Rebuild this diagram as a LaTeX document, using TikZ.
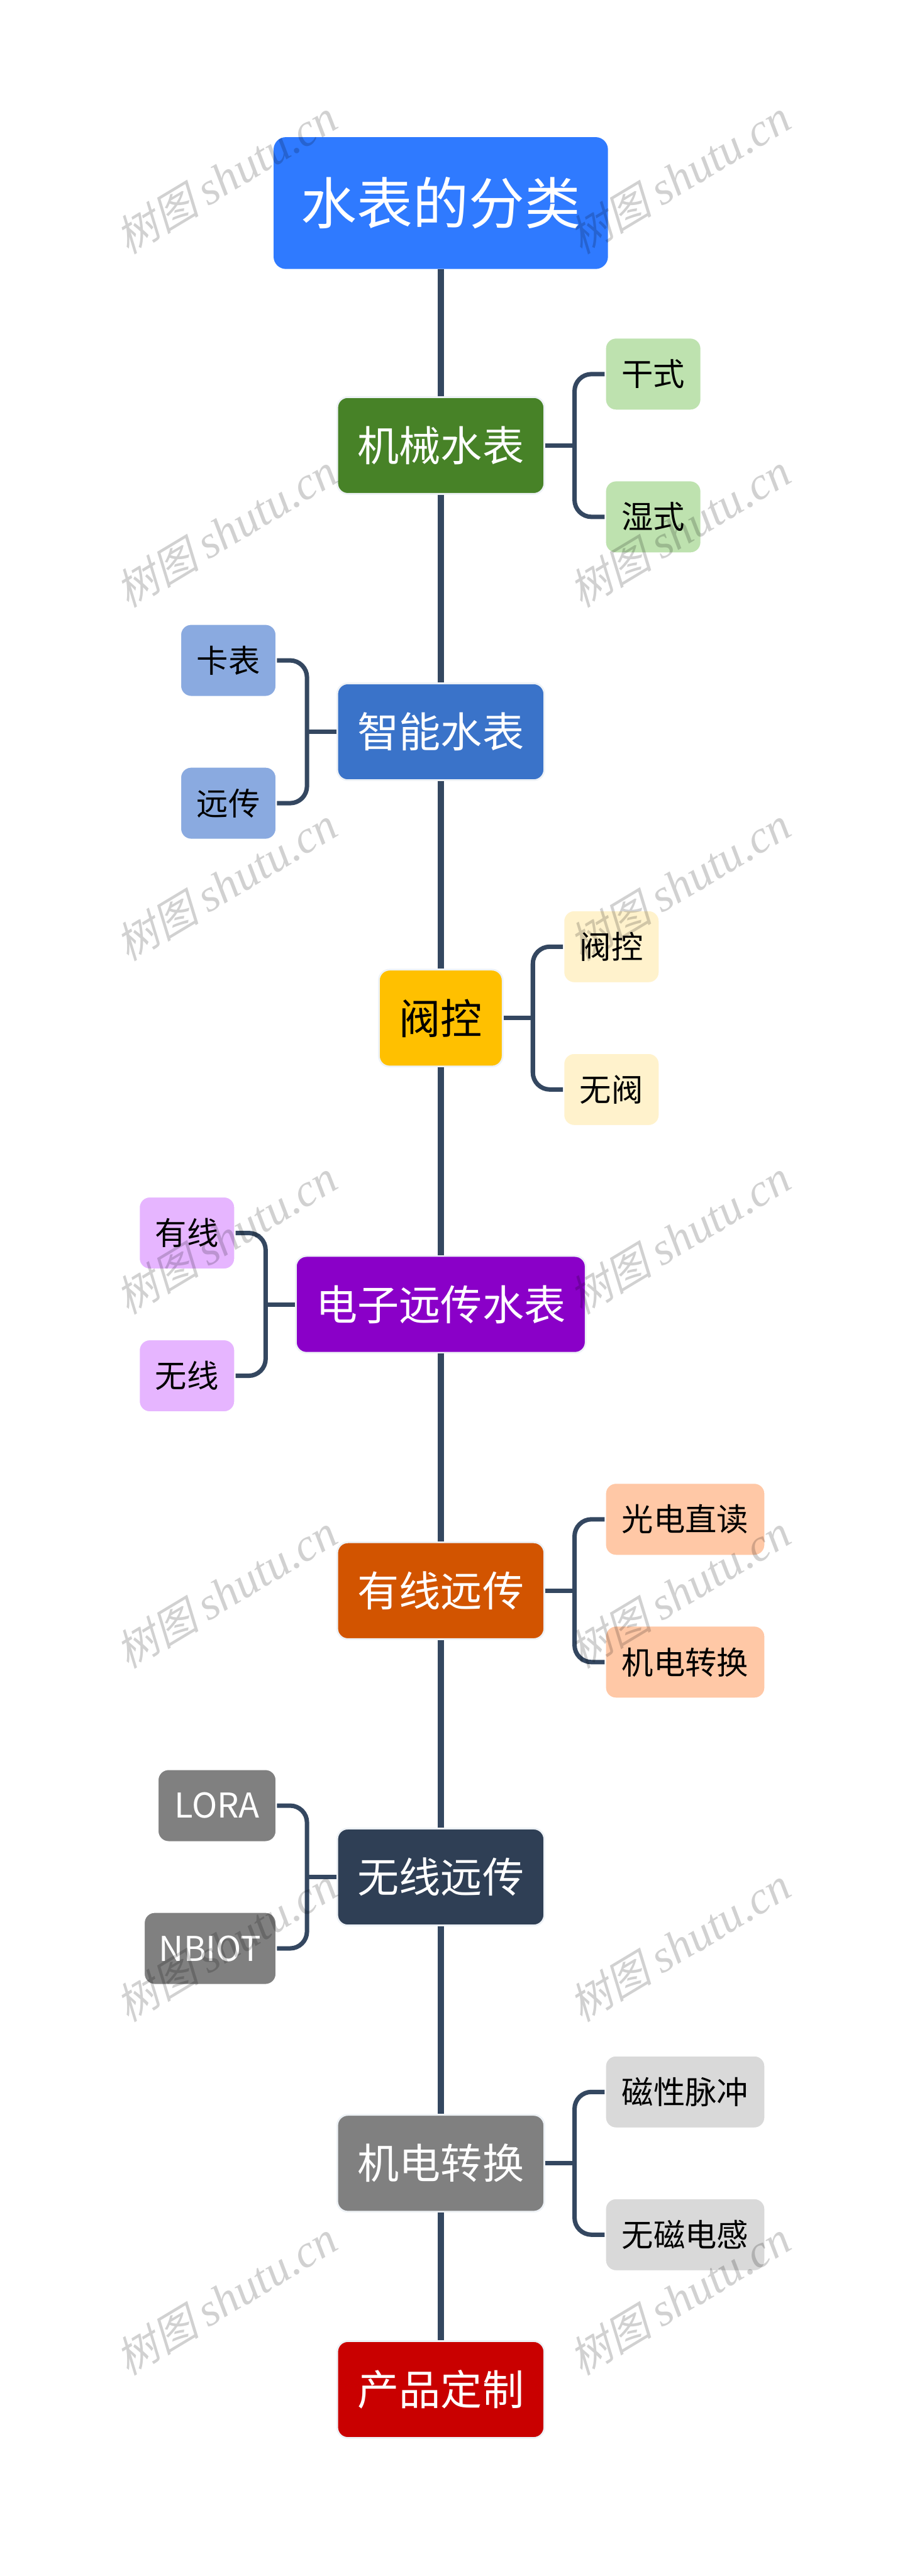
\documentclass[tikz,border=0pt]{standalone}
\usepackage{fontspec}
\setmainfont{Noto Sans CJK SC}
\newfontfamily\markcjk[FakeSlant=0.25]{Noto Sans CJK SC}
\newfontfamily\marklatin{Liberation Serif}
\usetikzlibrary{positioning}

\definecolor{linecol}{HTML}{344760}
\definecolor{halocol}{HTML}{EEF2F6}
\definecolor{rootcol}{HTML}{2F7AFF}
\definecolor{mechcol}{HTML}{478227}
\definecolor{mechleaf}{HTML}{BEE2AF}
\definecolor{smartcol}{HTML}{3A73C9}
\definecolor{smartleaf}{HTML}{8AAAE0}
\definecolor{valvecol}{HTML}{FFC000}
\definecolor{valveleaf}{HTML}{FFF2CC}
\definecolor{elecol}{HTML}{8A00C8}
\definecolor{eleleaf}{HTML}{E6B5FF}
\definecolor{wiredcol}{HTML}{D25400}
\definecolor{wiredleaf}{HTML}{FFC8A6}
\definecolor{wlesscol}{HTML}{2F3F55}
\definecolor{greycol}{HTML}{808080}
\definecolor{convleaf}{HTML}{D9D9D9}
\definecolor{prodcol}{HTML}{C90000}

\tikzset{
  rootbox/.style={rectangle, rounded corners=0.7cm, fill=rootcol, text=white, minimum width=18.92cm, minimum height=7.46cm, inner sep=0pt, font=\fontsize{90}{100}\selectfont},
  mainbox/.style={rectangle, rounded corners=0.6cm, draw=halocol, line width=0.1cm, text=white, minimum width=11.72cm, minimum height=5.48cm, inner sep=0pt, font=\fontsize{67}{80}\selectfont},
  leafbox/.style={rectangle, rounded corners=0.6cm, draw=white, line width=0.08cm, minimum width=5.42cm, minimum height=4.1cm, inner sep=0pt, font=\fontsize{51}{60}\selectfont},
  wideleaf/.style={leafbox, minimum width=9.04cm},
  spine/.style={line width=0.38cm, draw=linecol},
  branch/.style={line width=0.25cm, draw=linecol, rounded corners=0.96cm},
  stub/.style={line width=0.25cm, draw=linecol},
  markstyle/.style={rotate=31, text=black, opacity=0.18, font=\fontsize{68}{70}\selectfont}
}

\begin{document}
\begin{tikzpicture}
\useasboundingbox (0,0) rectangle (51.2,-145.76);

% Main column
\node[rootbox] (root) at (24.94,-11.49) {水表的分类};
\node[mainbox, fill=mechcol, below=7.19cm of root] (mech) {机械水表};
\node[mainbox, fill=smartcol, below=10.62cm of mech] (smart) {智能水表};
\node[mainbox, fill=valvecol, text=black, minimum width=7cm, below=10.62cm of smart] (valve) {阀控};
\node[mainbox, fill=elecol, minimum width=16.4cm, below=10.62cm of valve] (remote) {电子远传水表};
\node[mainbox, fill=wiredcol, below=10.62cm of remote] (wired) {有线远传};
\node[mainbox, fill=wlesscol, below=10.62cm of wired] (wless) {无线远传};
\node[mainbox, fill=greycol, below=10.62cm of wless] (conv) {机电转换};
\node[mainbox, fill=prodcol, below=7.22cm of conv] (prod) {产品定制};

% Leaves
\node[leafbox, fill=mechleaf, right=3.36cm of mech, yshift=4.04cm] (dry) {干式};
\node[leafbox, fill=mechleaf, right=3.36cm of mech, yshift=-4.04cm] (wet) {湿式};
\node[leafbox, fill=smartleaf, left=3.36cm of smart, yshift=4.04cm] (card) {卡表};
\node[leafbox, fill=smartleaf, left=3.36cm of smart, yshift=-4.04cm] (far) {远传};
\node[leafbox, fill=valveleaf, right=3.36cm of valve, yshift=4.04cm] (vctl) {阀控};
\node[leafbox, fill=valveleaf, right=3.36cm of valve, yshift=-4.04cm] (vnone) {无阀};
\node[leafbox, fill=eleleaf, left=3.36cm of remote, yshift=4.04cm] (wire) {有线};
\node[leafbox, fill=eleleaf, left=3.36cm of remote, yshift=-4.04cm] (nowire) {无线};
\node[wideleaf, fill=wiredleaf, right=3.36cm of wired, yshift=4.04cm] (optic) {光电直读};
\node[wideleaf, fill=wiredleaf, right=3.36cm of wired, yshift=-4.04cm] (conv2) {机电转换};
\node[leafbox, fill=greycol, text=white, minimum width=6.7cm, left=3.36cm of wless, yshift=4.04cm, font=\fontsize{55}{60}\selectfont] (lora) {LORA};
\node[leafbox, fill=greycol, text=white, minimum width=7.48cm, left=3.36cm of wless, yshift=-4.04cm, font=\fontsize{55}{60}\selectfont] (nbiot) {NBIOT};
\node[wideleaf, fill=convleaf, right=3.36cm of conv, yshift=4.04cm] (pulse) {磁性脉冲};
\node[wideleaf, fill=convleaf, right=3.36cm of conv, yshift=-4.04cm] (nomag) {无磁电感};

% Junctions
\coordinate[right=1.66cm of mech] (mechj);
\coordinate[left=1.66cm of smart] (smartj);
\coordinate[right=1.66cm of valve] (valvej);
\coordinate[left=1.66cm of remote] (remotej);
\coordinate[right=1.66cm of wired] (wiredj);
\coordinate[left=1.66cm of wless] (wlessj);
\coordinate[right=1.66cm of conv] (convj);

% Spine
\draw[spine] (root) -- (mech);
\draw[spine] (mech) -- (smart);
\draw[spine] (smart) -- (valve);
\draw[spine] (valve) -- (remote);
\draw[spine] (remote) -- (wired);
\draw[spine] (wired) -- (wless);
\draw[spine] (wless) -- (conv);
\draw[spine] (conv) -- (prod);

% Branches
\draw[stub] (mech) -- (mechj);
\draw[branch] (dry.west) -| (mechj) |- (wet.west);
\draw[stub] (smart) -- (smartj);
\draw[branch] (card.east) -| (smartj) |- (far.east);
\draw[stub] (valve) -- (valvej);
\draw[branch] (vctl.west) -| (valvej) |- (vnone.west);
\draw[stub] (remote) -- (remotej);
\draw[branch] (wire.east) -| (remotej) |- (nowire.east);
\draw[stub] (wired) -- (wiredj);
\draw[branch] (optic.west) -| (wiredj) |- (conv2.west);
\draw[stub] (wless) -- (wlessj);
\draw[branch] (lora.east) -| (wlessj) |- (nbiot.east);
\draw[stub] (conv) -- (convj);
\draw[branch] (pulse.west) -| (convj) |- (nomag.west);

% Watermarks
\foreach \ypos/\tag in {10.02/a,30.04/b,50.04/c,70.02/d,90.08/e,110.06/f,130.06/g} {
  \node[markstyle] (markl\tag) at (12.8,-\ypos) {{\markcjk 树图} {\fontsize{74}{70}\selectfont\marklatin\itshape shutu.cn}};
  \node[markstyle] (markr\tag) at (38.45,-\ypos) {{\markcjk 树图} {\fontsize{74}{70}\selectfont\marklatin\itshape shutu.cn}};
}
\end{tikzpicture}
\end{document}
